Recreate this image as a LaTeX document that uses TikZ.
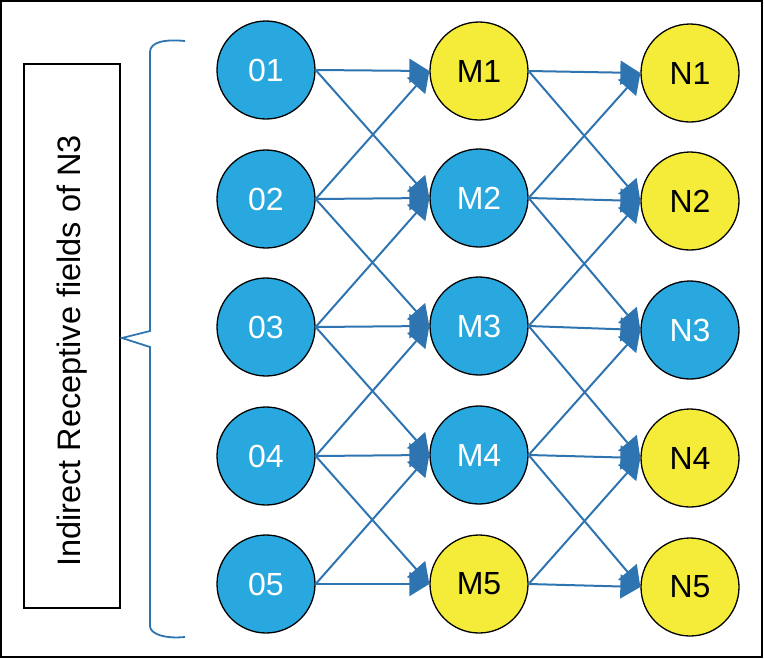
\documentclass[tikz,border=0pt]{standalone}
\usepackage{fontspec}
\setmainfont{Liberation Sans}
\usetikzlibrary{arrows.meta}
\definecolor{nblue}{HTML}{29A8DF}
\definecolor{nyellow}{HTML}{F5EC3A}
\definecolor{eblue}{HTML}{2E74B0}
\tikzset{
  neuron/.style={circle, draw=black, line width=1.3pt, minimum size=98pt, inner sep=0pt, font=\fontsize{32}{32}\selectfont},
  bluen/.style={neuron, fill=nblue, text=white},
  yellown/.style={neuron, fill=nyellow, text=black},
  conn/.style={draw=eblue, line width=2pt, -{Triangle[length=20pt,width=24pt]}},
}
\begin{document}
\begin{tikzpicture}[x=1pt,y=-1pt]
\useasboundingbox (0,0) rectangle (764,659);
\draw[line width=2pt] (1,1) rectangle (762,657);
\node[draw=black, line width=1.5pt, minimum width=96pt, minimum height=544pt, inner sep=0pt] (box) at (72,336) {};
\node[rotate=90, font=\fontsize{32.5}{32.5}\selectfont] (lbl) at (72,351) {Indirect Receptive fields of N3};
% brace
\coordinate (bt) at (185,41);
\coordinate (bb) at (185,637);
\draw[eblue, line width=1.8pt] (bt) .. controls (165,39) and (150,42) .. (150,52) -- (150,331) -- (122,338) -- (150,347) -- (150,626) .. controls (150,634) and (165,639) .. (bb);
% nodes
\node[bluen] (O1) at (266,70) {01};
\node[bluen] (O2) at (266,199) {02};
\node[bluen] (O3) at (266,327) {03};
\node[bluen] (O4) at (266,456) {04};
\node[bluen] (O5) at (266,584) {05};
\node[yellown] (M1) at (479,71) {M1};
\node[bluen] (M2) at (479,198) {M2};
\node[bluen] (M3) at (479,326) {M3};
\node[bluen] (M4) at (479,455) {M4};
\node[yellown] (M5) at (479,584) {M5};
\node[yellown] (N1) at (690,73) {N1};
\node[yellown] (N2) at (690,201) {N2};
\node[bluen] (N3) at (690,330) {N3};
\node[yellown] (N4) at (690,458) {N4};
\node[yellown] (N5) at (690,587) {N5};
% edges O -> M
\foreach \a/\b in {1/1,1/2,2/1,2/2,2/3,3/2,3/3,3/4,4/3,4/4,4/5,5/4,5/5}{
  \draw[conn] (O\a.east) -- (M\b.west);
}
% edges M -> N
\foreach \a/\b in {1/1,1/2,2/1,2/2,2/3,3/2,3/3,3/4,4/3,4/4,4/5,5/4,5/5}{
  \draw[conn] (M\a.east) -- (N\b.west);
}
\end{tikzpicture}
\end{document}
